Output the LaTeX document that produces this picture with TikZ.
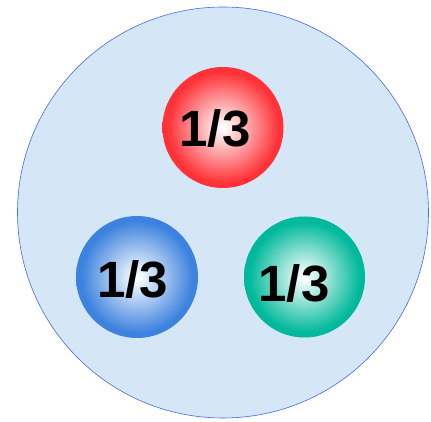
\documentclass[tikz,border=0pt]{standalone}
\usepackage{fontspec}
\setmainfont{Liberation Sans}
\definecolor{bgfill}{RGB}{213,230,247}
\definecolor{bgline}{RGB}{70,105,225}
\definecolor{ballred}{RGB}{255,50,55}
\definecolor{ballblue}{RGB}{60,130,222}
\definecolor{ballgreen}{RGB}{0,185,155}
\pgfdeclareradialshading{redball}{\pgfpoint{0bp}{0bp}}{color(0bp)=(white); color(1.5bp)=(white!96!ballred); color(23bp)=(ballred); color(50bp)=(ballred)}
\pgfdeclareradialshading{blueball}{\pgfpoint{0bp}{0bp}}{color(0bp)=(white); color(1.5bp)=(white!96!ballblue); color(23bp)=(ballblue); color(50bp)=(ballblue)}
\pgfdeclareradialshading{greenball}{\pgfpoint{0bp}{0bp}}{color(0bp)=(white); color(1.5bp)=(white!96!ballgreen); color(23bp)=(ballgreen); color(50bp)=(ballgreen)}
\tikzset{
  ball/.style={circle, minimum size=#1, inner sep=0pt, draw=none},
  frac/.style={anchor=base, inner sep=0pt, font=\fontsize{51}{51}\selectfont\bfseries}
}
\begin{document}
\begin{tikzpicture}[x=1pt,y=1pt]
\useasboundingbox (0,0) rectangle (431,422);
\node[circle, minimum size=411pt, inner sep=0pt, fill=bgfill, draw=bgline, line width=0.6pt] (outer) at (223,209.5) {};
\node[ball=121pt, shading=redball] (red) at (223,294.5) {};
\node[ball=122pt, shading=blueball] (blue) at (137,145) {};
\node[ball=121pt, shading=greenball] (green) at (304.5,145) {};
\node[frac] (tr) at (215,275) {1/3};
\node[frac] (tb) at (132.5,124) {1/3};
\node[frac] (tg) at (294,120) {1/3};
\end{tikzpicture}
\end{document}
